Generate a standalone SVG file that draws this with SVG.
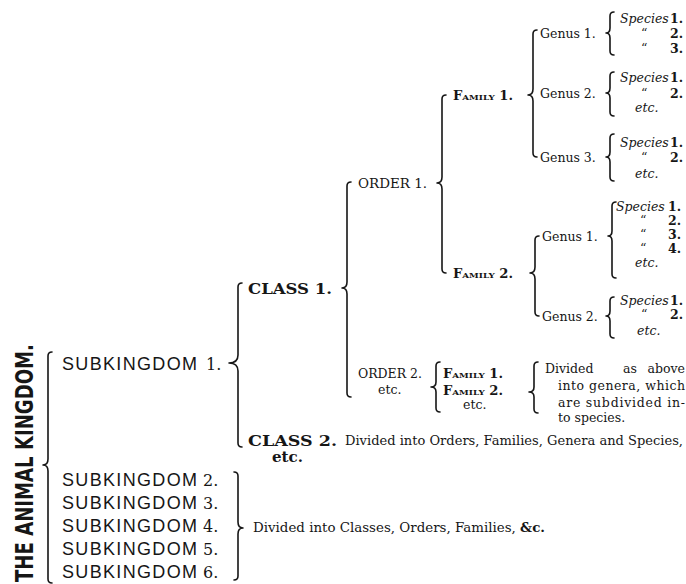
<svg xmlns="http://www.w3.org/2000/svg" width="686" height="584" viewBox="0 0 686 584">
<style>
text{fill:#161616;font-family:"DejaVu Serif","Liberation Serif",serif;font-size:12.5px}
.it{font-style:italic}
.b{font-weight:bold}
.sk{font-family:"Liberation Sans",Arial,sans-serif;font-size:18px}
.num{font-family:"DejaVu Serif","Liberation Serif",serif;font-size:16px}
.cl{font-weight:bold;font-size:14.5px}
.sc{font-variant:small-caps;font-weight:bold;font-size:12px}
.ti{font-family:"DejaVu Sans Condensed","Liberation Sans",sans-serif;font-weight:bold;font-size:25px}
.br{fill:none;stroke:#161616;stroke-width:1.6;stroke-linecap:round;stroke-linejoin:round}
</style>
<rect width="686" height="584" fill="#fff"/>
<g id="connectors" class="br">
<path d="M52 352 Q48 352 48 356 L48 459 Q48 465 43 465 Q48 465 48 471 L48 579 Q48 583 52 583"/>
<path d="M242 283 Q238 283 238 287 L238 355 Q238 363 229 363 Q238 363 238 371 L238 443 Q238 447 242 447"/>
<path d="M234 472 Q238 472 238 476 L238 522 Q238 528 243 528 Q238 528 238 534 L238 576 Q238 580 234 580"/>
<path d="M351 182 Q347 182 347 186 L347 282 Q347 288 342 288 Q347 288 347 294 L347 393 Q347 397 351 397"/>
<path d="M446 95 Q442 95 442 99 L442 177 Q442 183 437 183 Q442 183 442 189 L442 269 Q442 273 446 273"/>
<path d="M440 362 Q436 362 436 366 L436 382 Q436 387 431 387 Q436 387 436 392 L436 408 Q436 412 440 412"/>
<path d="M537 30 Q533 30 533 34 L533 89 Q533 95 528 95 Q533 95 533 101 L533 153 Q533 157 537 157"/>
<path d="M539 236 Q535 236 535 240 L535 267 Q535 273 530 273 Q535 273 535 279 L535 312 Q535 316 539 316"/>
<path d="M538 362 Q534 362 534 366 L534 387 Q534 392 529 392 Q534 392 534 397 L534 409 Q534 413 538 413"/>
<path d="M614 12 Q610 12 610 16 L610 28 Q610 33 606 33 Q610 33 610 38 L610 51 Q610 55 614 55"/>
<path d="M614 72 Q610 72 610 76 L610 88 Q610 93 606 93 Q610 93 610 98 L610 112 Q610 116 614 116"/>
<path d="M614 134 Q610 134 610 138 L610 152 Q610 157 606 157 Q610 157 610 162 L610 177 Q610 181 614 181"/>
<path d="M616 202 Q612 202 612 206 L612 231 Q612 236 608 236 Q612 236 612 241 L612 274 Q612 278 616 278"/>
<path d="M614 297 Q610 297 610 301 L610 311 Q610 316 606 316 Q610 316 610 321 L610 334 Q610 338 614 338"/>
</g>
<g id="title"><text class="ti" transform="translate(33,582) rotate(-90)" textLength="238" lengthAdjust="spacingAndGlyphs">THE ANIMAL KINGDOM.</text></g>
<g id="sk1"><text class="sk" y="369.5"><tspan x="62" textLength="135" lengthAdjust="spacing">SUBKINGDOM</tspan><tspan class="num" x="206">1.</tspan></text></g>
<g id="sk2"><text class="sk" y="485.5"><tspan x="62" textLength="135" lengthAdjust="spacing">SUBKINGDOM</tspan><tspan class="num" x="203">2.</tspan></text></g>
<g id="sk3"><text class="sk" y="508.5"><tspan x="62" textLength="135" lengthAdjust="spacing">SUBKINGDOM</tspan><tspan class="num" x="203">3.</tspan></text></g>
<g id="sk4"><text class="sk" y="531.5"><tspan x="62" textLength="135" lengthAdjust="spacing">SUBKINGDOM</tspan><tspan class="num" x="203">4.</tspan></text></g>
<g id="sk5"><text class="sk" y="554.5"><tspan x="62" textLength="135" lengthAdjust="spacing">SUBKINGDOM</tspan><tspan class="num" x="203">5.</tspan></text></g>
<g id="sk6"><text class="sk" y="577.5"><tspan x="62" textLength="135" lengthAdjust="spacing">SUBKINGDOM</tspan><tspan class="num" x="203">6.</tspan></text></g>
<g id="sk-rest"><text x="253" y="532" textLength="292" lengthAdjust="spacingAndGlyphs">Divided into Classes, Orders, Families, <tspan class="b">&amp;c.</tspan></text></g>
<g id="class1"><text class="cl" x="248" y="293.5" textLength="84" lengthAdjust="spacingAndGlyphs">CLASS 1.</text></g>
<g id="class2"><text class="cl" x="248" y="445.5" textLength="89" lengthAdjust="spacingAndGlyphs">CLASS 2.</text>
<text x="345" y="445" textLength="338" lengthAdjust="spacingAndGlyphs">Divided into Orders, Families, Genera and Species,</text>
<text class="cl" x="272" y="461.5" textLength="31" lengthAdjust="spacingAndGlyphs">etc.</text></g>
<g id="order1"><text x="358" y="187.5" textLength="69" lengthAdjust="spacingAndGlyphs">ORDER 1.</text></g>
<g id="order2"><text x="358" y="377.5" textLength="64" lengthAdjust="spacingAndGlyphs">ORDER 2.</text>
<text x="378" y="394">etc.</text></g>
<g id="o2-families"><text class="sc" x="443" y="377.5" textLength="60" lengthAdjust="spacingAndGlyphs">Family 1.</text>
<text class="sc" x="443" y="394.5" textLength="60" lengthAdjust="spacingAndGlyphs">Family 2.</text>
<text x="463" y="409">etc.</text></g>
<g id="o2-divided">
<text x="545" y="372.5">Divided</text><text x="623" y="372.5">as</text><text x="685" y="372.5" text-anchor="end">above</text>
<text x="558" y="389.5" textLength="127" lengthAdjust="spacing">into genera, which</text>
<text x="558" y="406.5" textLength="127" lengthAdjust="spacing">are subdivided in-</text>
<text x="558" y="421.5">to species.</text></g>
<g id="family1"><text class="sc" x="453" y="99.5" textLength="60" lengthAdjust="spacingAndGlyphs">Family 1.</text></g>
<g id="family2"><text class="sc" x="453" y="277.5" textLength="60" lengthAdjust="spacingAndGlyphs">Family 2.</text></g>
<g id="f1-genus1"><text x="540" y="37.5">Genus 1.</text>
<text x="620" y="22.5"><tspan class="it">Species</tspan><tspan class="b" x="670">1.</tspan></text>
<text x="641" y="37.5">“<tspan class="b" x="670">2.</tspan></text>
<text x="641" y="52.5">“<tspan class="b" x="670">3.</tspan></text></g>
<g id="f1-genus2"><text x="540" y="97.5">Genus 2.</text>
<text x="620" y="81.5"><tspan class="it">Species</tspan><tspan class="b" x="670">1.</tspan></text>
<text x="641" y="97.5">“<tspan class="b" x="670">2.</tspan></text>
<text class="it" x="635" y="111.5">etc.</text></g>
<g id="f1-genus3"><text x="540" y="161.5">Genus 3.</text>
<text x="620" y="146.5"><tspan class="it">Species</tspan><tspan class="b" x="670">1.</tspan></text>
<text x="641" y="161.5">“<tspan class="b" x="670">2.</tspan></text>
<text class="it" x="635" y="178">etc.</text></g>
<g id="f2-genus1"><text x="542" y="240.5">Genus 1.</text>
<text x="616" y="210.5"><tspan class="it">Species</tspan><tspan class="b" x="668">1.</tspan></text>
<text x="640" y="224.5">“<tspan class="b" x="668">2.</tspan></text>
<text x="640" y="238.5">“<tspan class="b" x="668">3.</tspan></text>
<text x="640" y="252.5">“<tspan class="b" x="668">4.</tspan></text>
<text class="it" x="635" y="267">etc.</text></g>
<g id="f2-genus2"><text x="542" y="320.5">Genus 2.</text>
<text x="620" y="304.5"><tspan class="it">Species</tspan><tspan class="b" x="670">1.</tspan></text>
<text x="641" y="318.5">“<tspan class="b" x="670">2.</tspan></text>
<text class="it" x="637" y="335">etc.</text></g>
</svg>
